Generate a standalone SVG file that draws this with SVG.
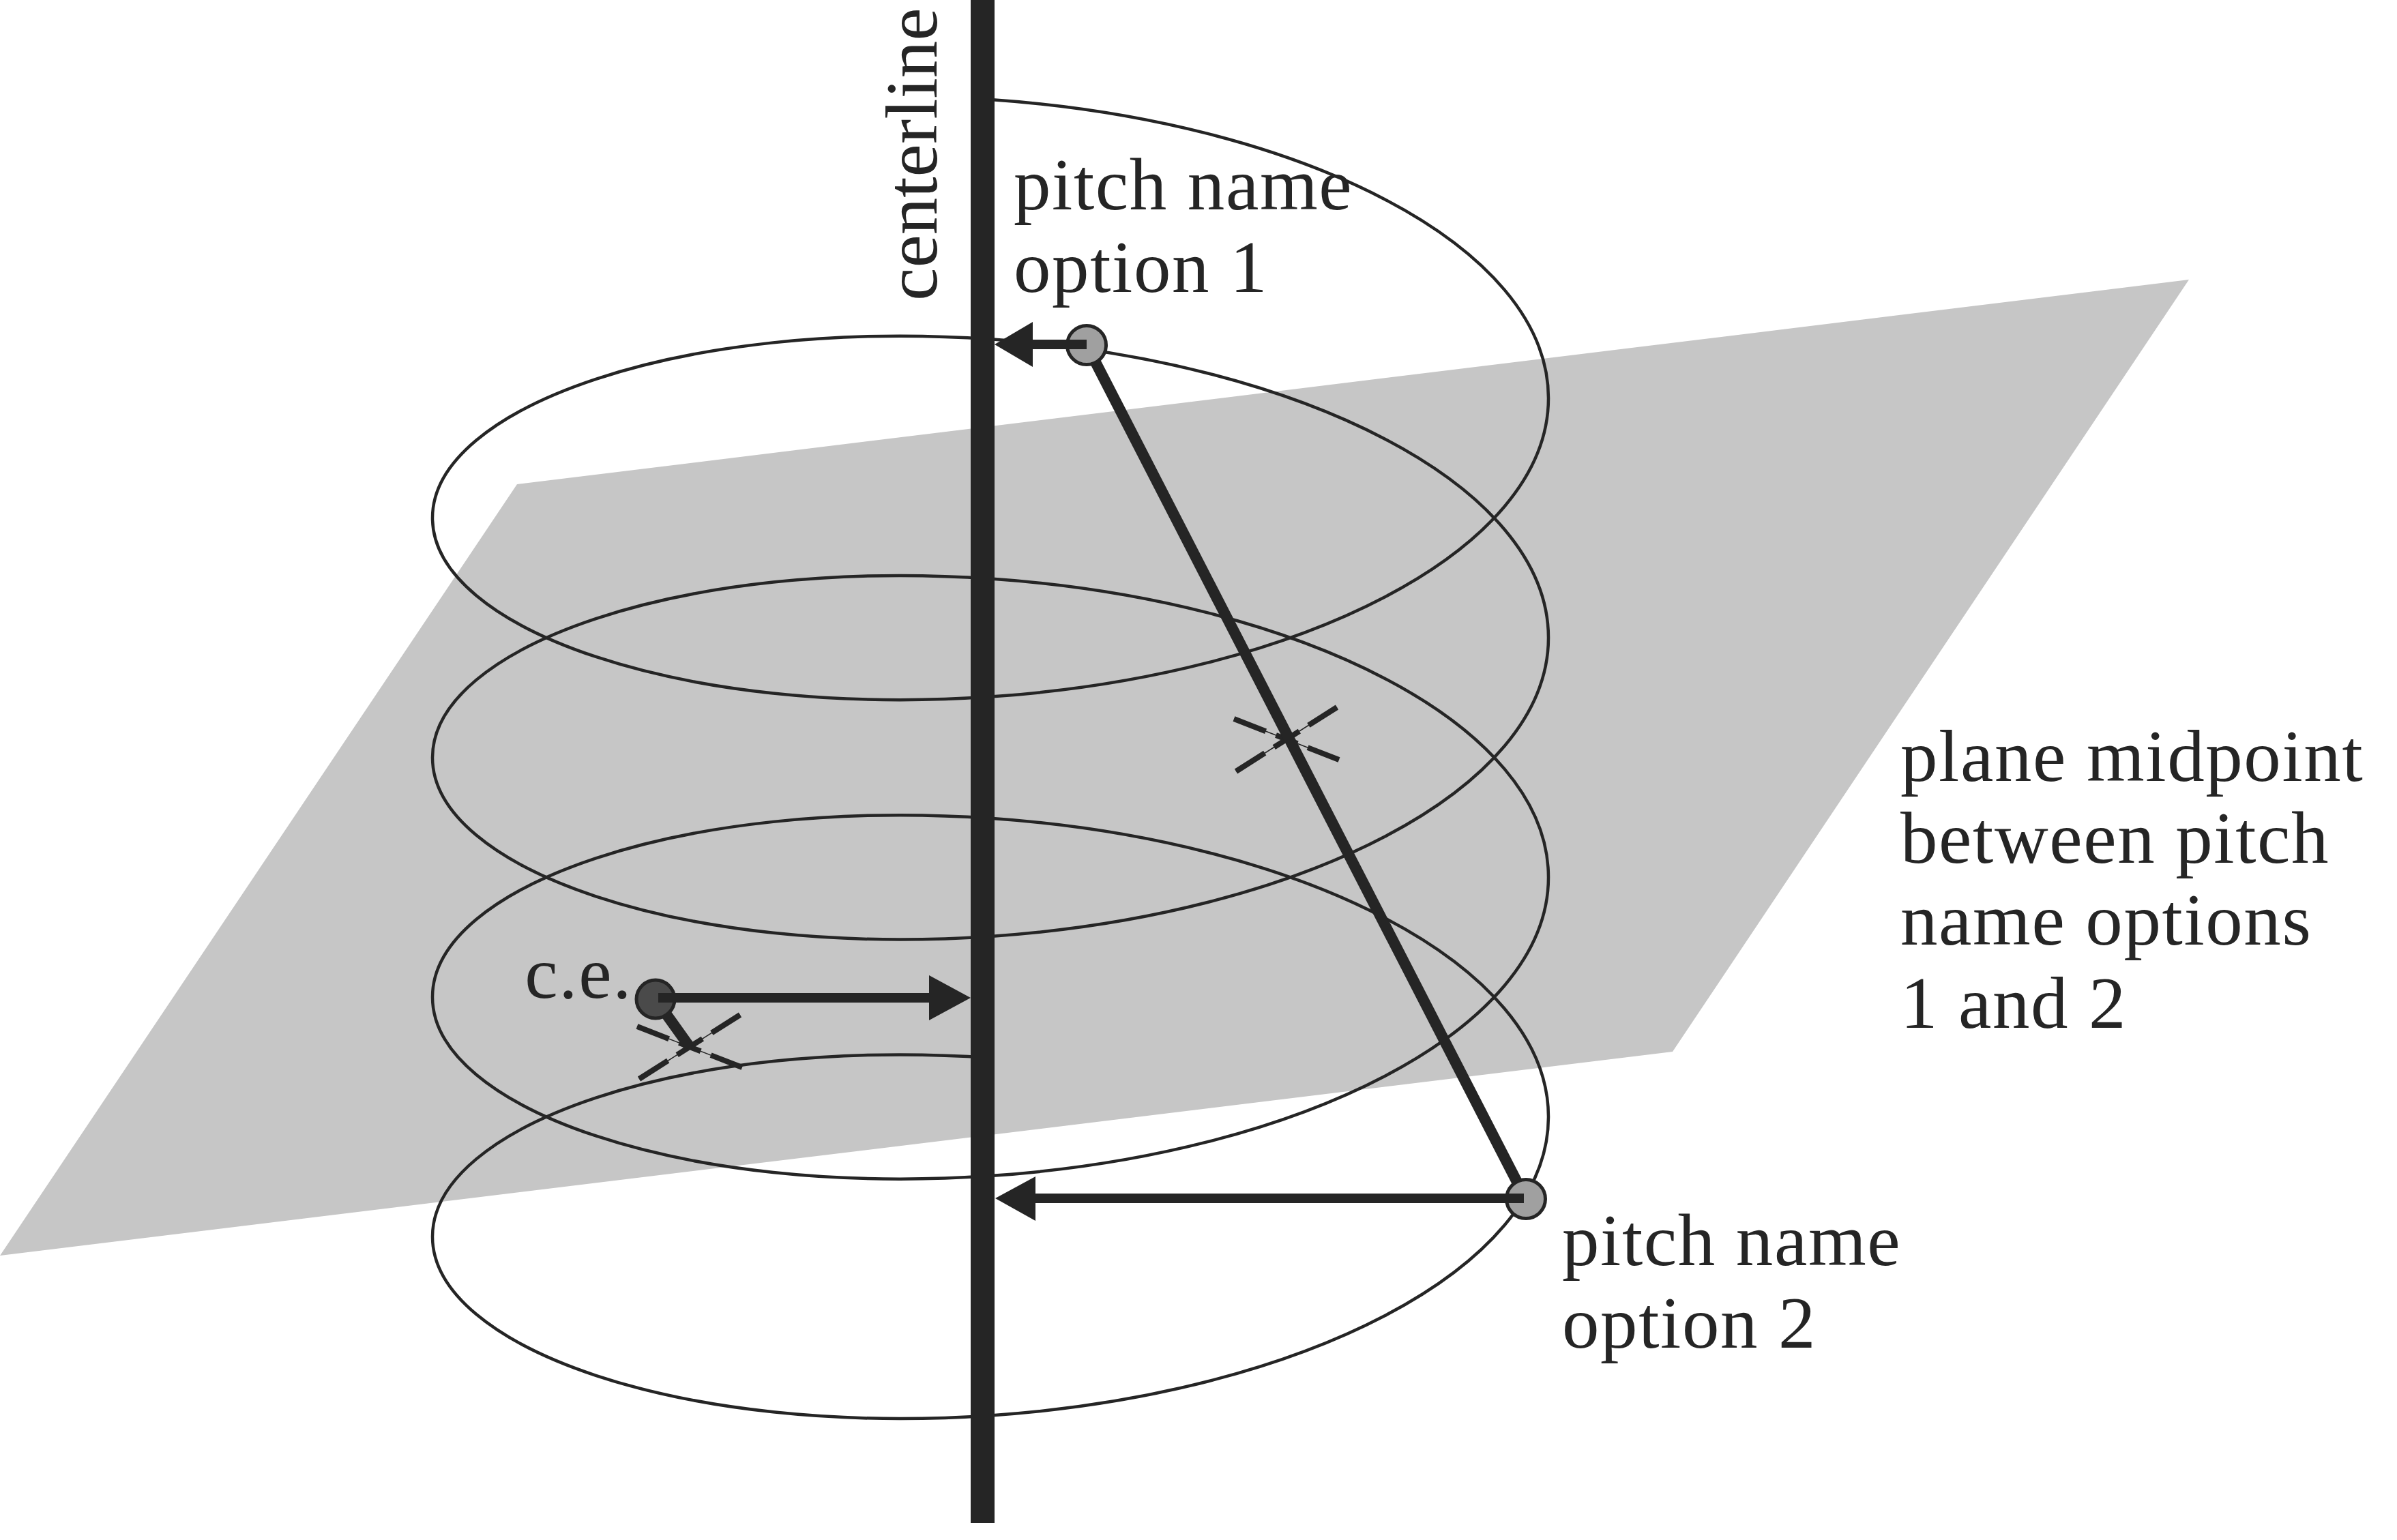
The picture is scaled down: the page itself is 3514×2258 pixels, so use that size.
<svg xmlns="http://www.w3.org/2000/svg" xmlns:xlink="http://www.w3.org/1999/xlink" width="3514" height="2258" viewBox="0 0 3514 2258">
<style>
.lbl{font-family:"Liberation Serif","Times New Roman",serif;font-size:109px;fill:#252525;letter-spacing:1.6px}
.vert{letter-spacing:0}
.helix{fill:none;stroke:#252525;stroke-width:4.5}
.thick{stroke:#252525;stroke-width:16;fill:none}
.shaft{stroke:#252525;stroke-width:14;fill:none}
.head{fill:#252525}
.thin{stroke:#252525;stroke-width:1.5}
.dash{stroke:#252525;stroke-width:8}
.pt{fill:#a0a0a0;stroke:#252525;stroke-width:5}
.ce{fill:#4a4a4a;stroke:#252525;stroke-width:5}
</style>
<defs>
<g id="xmark">
<line class="thin" x1="-77" y1="-30" x2="77" y2="30"/>
<line class="thin" x1="-74" y1="47" x2="74" y2="-47"/>
<line class="dash" x1="-77" y1="-30" x2="77" y2="30" stroke-dasharray="50 16 34 16 50"/>
<line class="dash" x1="-74" y1="47" x2="74" y2="-47" stroke-dasharray="50 16 44 16 50"/>
</g>
</defs>
<rect width="3514" height="2258" fill="#ffffff"/>
<g id="plane">
<polygon points="758,710 3209,410 2452,1542 0,1841" fill="#c6c6c6"/>
</g>
<g id="helix">
<path class="helix" d="M1452,146 C1903.8,176.9 2270,359.6 2270,583.8 C2270,808 1903.8,990.7 1452,1021.6 C1000.2,1052.5 634,921.8 634,759.4 C634,597 1000.2,466.4 1452,497.3 C1903.8,528.2 2270,710.9 2270,935.1 C2270,1159.3 1903.8,1342 1452,1372.9 C1000.2,1403.8 634,1273.1 634,1110.7 C634,948.3 1000.2,817.6 1452,848.5 C1903.8,879.4 2270,1062.1 2270,1286.3 C2270,1510.5 1903.8,1693.2 1452,1724.1 C1000.2,1755 634,1624.3 634,1461.9 C634,1299.5 1000.2,1168.9 1452,1199.8 C1903.8,1230.7 2270,1413.4 2270,1637.6 C2270,1861.8 1903.8,2044.5 1452,2075.4 C1000.2,2106.3 634,1975.6 634,1813.2 C634,1650.8 1000.2,1520.1 1452,1551"/>
</g>
<g id="centerline">
<rect x="1423" y="0" width="35" height="2233" fill="#252525"/>
<text class="lbl vert" transform="translate(1373,441) rotate(-90)">centerline</text>
</g>
<g id="midpoint-mark-1">
<use xlink:href="#xmark" href="#xmark" transform="translate(1886,1084)"/>
</g>
<g id="midpoint-mark-ce">
<use xlink:href="#xmark" href="#xmark" transform="translate(1011,1535)"/>
</g>
<g id="point-option1">
<circle class="pt" cx="1593" cy="506" r="28.5"/>
<text class="lbl" x="1486" y="307">pitch name</text>
<text class="lbl" x="1486" y="428">option 1</text>
</g>
<g id="point-option2">
<circle class="pt" cx="2237" cy="1758" r="28.5"/>
<text class="lbl" x="2290" y="1855">pitch name</text>
<text class="lbl" x="2290" y="1976">option 2</text>
</g>
<g id="point-ce">
<circle class="ce" cx="961" cy="1465" r="28"/>
<text class="lbl" x="927" y="1463" text-anchor="end">c.e.</text>
</g>
<g id="plane-label">
<text class="lbl" x="2786" y="1145">plane midpoint</text>
<text class="lbl" x="2786" y="1265">between pitch</text>
<text class="lbl" x="2786" y="1385">name options</text>
<text class="lbl" x="2786" y="1507">1 and 2</text>
</g>
<g id="connectors">
<line class="thick" x1="1606" y1="531" x2="2224" y2="1733"/>
<line class="thick" x1="976" y1="1486" x2="1011" y2="1535"/>
<line class="shaft" x1="1510" y1="505" x2="1593" y2="505"/>
<polygon class="head" points="1458,505 1514,472 1514,538"/>
<line class="shaft" x1="1514" y1="1757" x2="2234" y2="1757"/>
<polygon class="head" points="1459,1757 1518,1725 1518,1790"/>
<line class="shaft" x1="965" y1="1463" x2="1366" y2="1463"/>
<polygon class="head" points="1423,1463 1362,1430 1362,1496"/>
</g>
</svg>
